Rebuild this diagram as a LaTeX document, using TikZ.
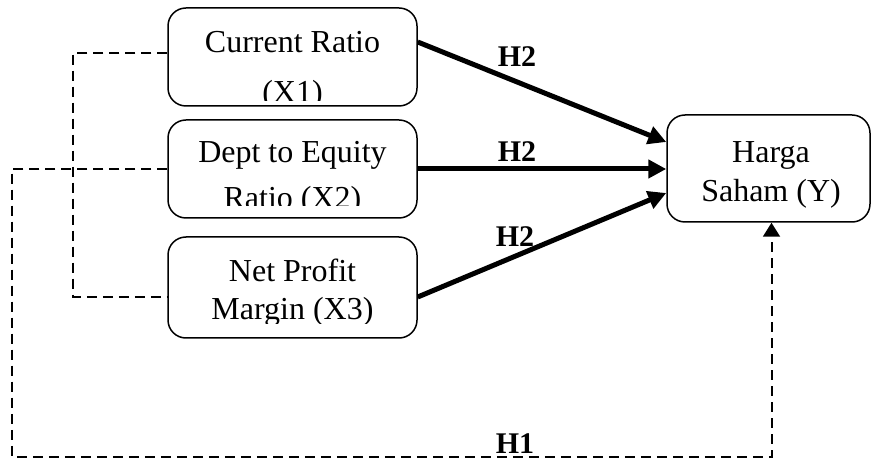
\documentclass[tikz,border=0pt]{standalone}
\usepackage{fontspec}
\setmainfont{Liberation Serif}
\usetikzlibrary{arrows.meta,calc}
\begin{document}
\begin{tikzpicture}[x=0.5pt,y=-0.5pt,
  box/.style={draw,line width=0.75pt,rounded corners=9pt,inner sep=0pt},
  txt/.style={inner sep=0pt,anchor=base,font=\fontsize{16}{19}\selectfont},
  lbl/.style={inner sep=0pt,anchor=base,font=\fontsize{15}{18}\selectfont\bfseries},
  solidarrow/.style={line width=2.5pt,-{Triangle[length=9pt,width=9pt]}},
  dashline/.style={line width=1pt,dash pattern=on 5pt off 3pt},
]
\useasboundingbox (0,0) rectangle (872,459);

% boxes
\node[box,minimum width=124.5pt,minimum height=49pt] (x1) at (292.5,57) {};
\node[box,minimum width=124.5pt,minimum height=49pt] (x2) at (292.5,169) {};
\node[box,minimum width=124.5pt,minimum height=50.5pt] (x3) at (292.5,287.5) {};
\node[box,minimum width=101.5pt,minimum height=53.5pt] (y) at (768.5,168.5) {};

% texts (clipped like the original text boxes)
\begin{scope}
  \clip (168,8) rectangle (417,101);
  \node[txt] (t1a) at (292.5,53) {Current Ratio};
  \node[txt] (t1b) at (292.5,103) {(X1)};
\end{scope}
\begin{scope}
  \clip (168,120) rectangle (417,206);
  \node[txt] (t2a) at (292.5,163) {Dept to Equity};
  \node[txt] (t2b) at (292.5,209) {Ratio (X2)};
\end{scope}
\begin{scope}
  \clip (168,237) rectangle (417,324);
  \node[txt] (t3a) at (292.5,282) {Net Profit};
  \node[txt] (t3b) at (292.5,320) {Margin (X3)};
\end{scope}
\node[txt] (tya) at (771,163) {Harga};
\node[txt] (tyb) at (771,202) {Saham (Y)};

% solid arrows
\draw[solidarrow] ([yshift=7.5pt]x1.east) -- ([yshift=13.25pt]y.west);
\draw[solidarrow] (x2.east) -- (x2.east -| y.west);
\draw[solidarrow] ([yshift=-4.75pt]x3.east) -- ([yshift=-12.25pt]y.west);

% dashed connectors
\coordinate (c1) at (73,297);
\draw[dashline] ([yshift=2pt]x1.west) -| (c1) -- ([yshift=-4.75pt]x3.west);
\coordinate (c2) at (12,457);
\draw[dashline,-{Triangle[length=7pt,width=8.5pt]}] (x2.west) -| (c2) -| ([xshift=1.5pt]y.south);

% labels
\node[lbl] (h2a) at (517,67) {H2};
\node[lbl] (h2b) at (517,162) {H2};
\node[lbl] (h2c) at (515,247) {H2};
\node[lbl] (h1) at (515,453) {H1};
\end{tikzpicture}
\end{document}
